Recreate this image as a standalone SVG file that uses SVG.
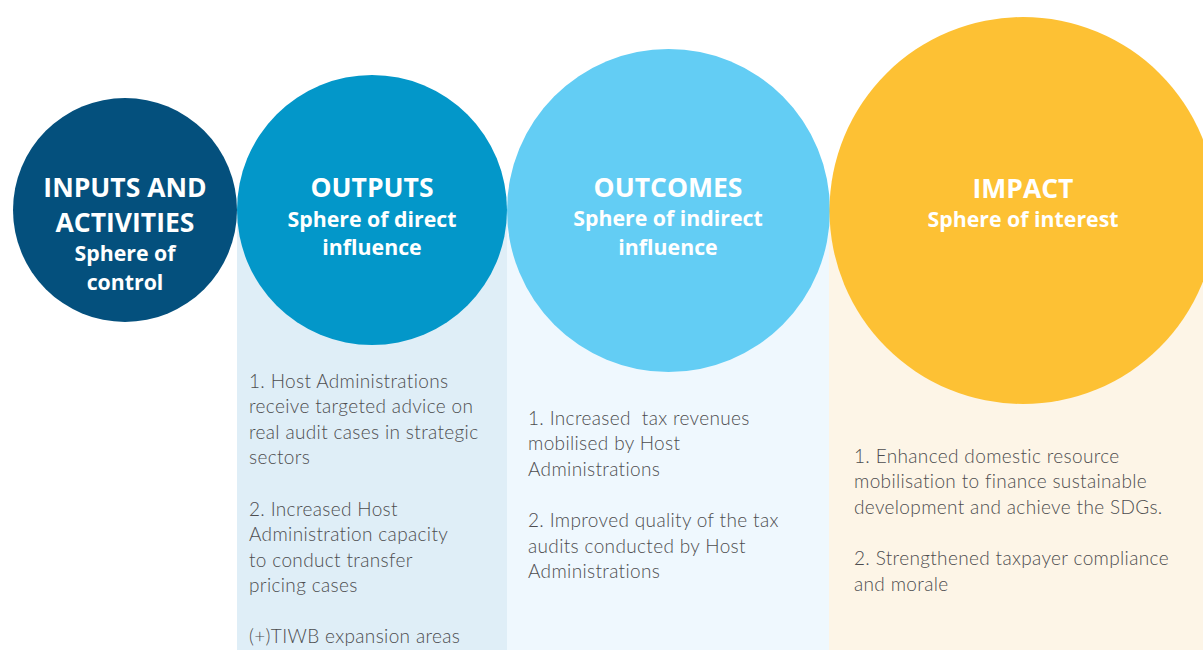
<svg xmlns="http://www.w3.org/2000/svg" width="1203" height="650" viewBox="0 0 1203 650">
<style>
.title{font-family:"Open Sans","Noto Sans","Liberation Sans",sans-serif;font-weight:700;font-size:26.5px;fill:#ffffff;text-anchor:middle}
.sub{font-family:"Open Sans","Noto Sans","Liberation Sans",sans-serif;font-weight:700;font-size:21.3px;fill:#ffffff;text-anchor:middle}
.body{font-family:Lato,"Open Sans","Liberation Sans",sans-serif;font-weight:300;font-size:19px;letter-spacing:0.35px;fill:#4d4d4f}
</style>
<rect width="1203" height="650" fill="#ffffff"/>
<g id="panels">
<rect x="237" y="210" width="270" height="440" fill="#dfeef7"/>
<rect x="507" y="210" width="322" height="440" fill="#eff8fe"/>
<rect x="829" y="210" width="374" height="440" fill="#fdf5e7"/>
</g>
<g id="inputs">
<circle cx="125" cy="210" r="112" fill="#04507d"/>
<text class="title" x="125" y="197">INPUTS AND</text>
<text class="title" x="125" y="232">ACTIVITIES</text>
<text class="sub" x="125" y="261">Sphere of</text>
<text class="sub" x="125" y="290">control</text>
</g>
<g id="outputs">
<circle cx="372" cy="210" r="135" fill="#0397c9"/>
<text class="title" x="372" y="197">OUTPUTS</text>
<text class="sub" x="372" y="227">Sphere of direct</text>
<text class="sub" x="372" y="255">influence</text>
<text class="body" x="249"><tspan x="249" y="388">1. Host Administrations</tspan><tspan x="249" y="413">receive targeted advice on</tspan><tspan x="249" y="439">real audit cases in strategic</tspan><tspan x="249" y="464">sectors</tspan><tspan x="249" y="516">2. Increased Host</tspan><tspan x="249" y="541">Administration capacity</tspan><tspan x="249" y="567">to conduct transfer</tspan><tspan x="249" y="592">pricing cases</tspan><tspan x="249" y="643">(+)TIWB expansion areas</tspan></text>
</g>
<g id="outcomes">
<circle cx="668.5" cy="210.5" r="161.5" fill="#63cdf4"/>
<text class="title" x="668" y="197">OUTCOMES</text>
<text class="sub" x="668" y="226">Sphere of indirect</text>
<text class="sub" x="668" y="255">influence</text>
<text class="body" x="528" xml:space="preserve"><tspan x="528" y="425">1. Increased  tax revenues</tspan><tspan x="528" y="450">mobilised by Host</tspan><tspan x="528" y="476">Administrations</tspan><tspan x="528" y="527">2. Improved quality of the tax</tspan><tspan x="528" y="553">audits conducted by Host</tspan><tspan x="528" y="578">Administrations</tspan></text>
</g>
<g id="impact">
<circle cx="1023" cy="210.5" r="193.5" fill="#fdc134"/>
<text class="title" x="1023" y="198">IMPACT</text>
<text class="sub" x="1023" y="227">Sphere of interest</text>
<text class="body" x="854"><tspan x="854" y="463">1. Enhanced domestic resource</tspan><tspan x="854" y="488">mobilisation to finance sustainable</tspan><tspan x="854" y="514">development and achieve the SDGs.</tspan><tspan x="854" y="565">2. Strengthened taxpayer compliance</tspan><tspan x="854" y="591">and morale</tspan></text>
</g>
</svg>
